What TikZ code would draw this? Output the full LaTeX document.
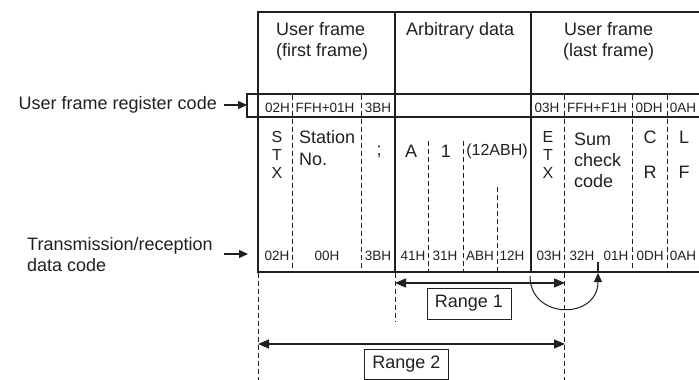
\documentclass[tikz,border=0pt]{standalone}
\usepackage{fontspec}
\setmainfont{Liberation Sans}
\usetikzlibrary{arrows.meta}
\definecolor{ink}{HTML}{231F20}
\begin{document}
\begin{tikzpicture}[x=1pt,y=-1pt,
  frameline/.style={line width=2pt, draw=ink},
  rowline/.style={line width=1.2pt, draw=ink},
  dsh/.style={line width=0.8pt, draw=ink, dash pattern=on 5pt off 3pt},
  big/.style={font=\fontsize{18}{21}\selectfont, text=ink, inner sep=0pt},
  letter/.style={font=\fontsize{16}{18}\selectfont, text=ink, inner sep=0pt, anchor=base},
  mid/.style={font=\fontsize{16}{19}\selectfont, text=ink, inner sep=0pt},
  small/.style={font=\fontsize{13.5}{16}\selectfont, text=ink, inner sep=0pt},
  arr/.style={-{Triangle[length=9pt,width=8pt]}, line width=1.4pt, draw=ink},
  darr/.style={{Triangle[length=11pt,width=9pt]}-{Triangle[length=11pt,width=9pt]}, line width=1.4pt, draw=ink},
  rangebox/.style={draw=ink, line width=1pt, font=\fontsize{18}{21}\selectfont, text=ink, minimum width=84pt, minimum height=31pt, inner sep=0pt}
]
\useasboundingbox (0,0) rectangle (699,380);

% register row box
\draw[rowline] (247,94) rectangle (705,117);
% main frame
\draw[frameline] (705,12) -- (258,12) -- (258,272) -- (705,272);
\draw[frameline] (395,12) -- (395,272);
\draw[frameline] (531,12) -- (531,272);

% dashed separators
\foreach \x in {292,361,564,632,667} \draw[dsh] (\x,95) -- (\x,271);
\foreach \x in {428,463} \draw[dsh] (\x,141) -- (\x,271);
\draw[dsh] (497,187) -- (497,271);
\draw[dsh] (258,273) -- (258,380);
\draw[dsh] (395,273) -- (395,322);
\draw[dsh] (564,273) -- (564,380);

% headers
\node[big, anchor=base west] (h1a) at (276,35) {User frame};
\node[big, anchor=base west] (h1b) at (276,56) {(first frame)};
\node[big, anchor=base west] (h2) at (406,35) {Arbitrary data};
\node[big, anchor=base west] (h3a) at (564,35) {User frame};
\node[big, anchor=base west] (h3b) at (563,56) {(last frame)};

% register row texts
\node[small, anchor=base] (r1) at (277.5,112) {02H};
\node[small, anchor=base] (r2) at (325,112) {FFH+01H};
\node[small, anchor=base] (r3) at (378,112) {3BH};
\node[small, anchor=base] (r4) at (547,112) {03H};
\node[small, anchor=base] (r5) at (597,112) {FFH+F1H};
\node[small, anchor=base] (r6) at (649,112) {0DH};
\node[small, anchor=base] (r7) at (683,112) {0AH};

% data texts
\node[letter] (s1) at (277,142) {S};
\node[letter] (s2) at (277,160) {T};
\node[letter] (s3) at (277,178) {X};
\node[big, anchor=base west] (st1) at (299,143) {Station};
\node[big, anchor=base west] (st2) at (299,165) {No.};
\node[big, anchor=base] (semi) at (379,155) {;};
\node[big, anchor=base] (da) at (411,157) {A};
\node[big, anchor=base] (d1) at (446,157) {1};
\node[mid, anchor=base] (dh) at (497,155) {(12ABH)};
\node[letter] (e1) at (548,142) {E};
\node[letter] (e2) at (548,160) {T};
\node[letter] (e3) at (548,178) {X};
\node[big, anchor=base west] (sc1) at (574,145) {Sum};
\node[big, anchor=base west] (sc2) at (574,166) {check};
\node[big, anchor=base west] (sc3) at (574,187) {code};
\node[big, anchor=base] (c1) at (650,143) {C};
\node[big, anchor=base] (c2) at (650,178) {R};
\node[big, anchor=base] (l1) at (684,143) {L};
\node[big, anchor=base] (l2) at (684,178) {F};

% transmission codes
\node[small, anchor=base] (t1) at (277,260) {02H};
\node[small, anchor=base] (t2) at (327,260) {00H};
\node[small, anchor=base] (t3) at (378,260) {3BH};
\node[small, anchor=base] (t4) at (413,260) {41H};
\node[small, anchor=base] (t5) at (445,260) {31H};
\node[small, anchor=base] (t6) at (480,260) {ABH};
\node[small, anchor=base] (t7) at (512,260) {12H};
\node[small, anchor=base] (t8) at (549,260) {03H};
\node[small, anchor=base] (t9) at (582,260) {32H};
\node[small, anchor=base] (t10) at (616,260) {01H};
\node[small, anchor=base] (t11) at (650,260) {0DH};
\node[small, anchor=base] (t12) at (683,260) {0AH};

% left labels
\node[big, anchor=base east] (lab1) at (217,109) {User frame register code};
\node[big, anchor=base west] (lab2a) at (27,250) {Transmission/reception};
\node[big, anchor=base west] (lab2b) at (27,271) {data code};
\coordinate (reg) at (247,105);
\coordinate (trx) at (248,254);
\draw[arr] (224,105) -- (reg);
\draw[arr] (224,254) -- (trx);

% split tick and curved arrow
\draw[line width=2pt, draw=ink] (598,262) -- (598,272);
\coordinate (arcS) at (530,276);
\coordinate (arcE) at (598,273);
\draw[arr, line width=1pt] (arcS) .. controls (530,320) and (598,320) .. (arcE);

% ranges
\coordinate (r1L) at (395,283);
\coordinate (r1R) at (565,283);
\draw[darr] (r1L) -- (r1R);
\node[rangebox] (range1) at (469,303.5) {Range 1};
\coordinate (r2L) at (258,344);
\coordinate (r2R) at (565,344);
\draw[darr] (r2L) -- (r2R);
\node[rangebox, minimum height=30pt] (range2) at (406.5,364) {Range 2};
\end{tikzpicture}
\end{document}
